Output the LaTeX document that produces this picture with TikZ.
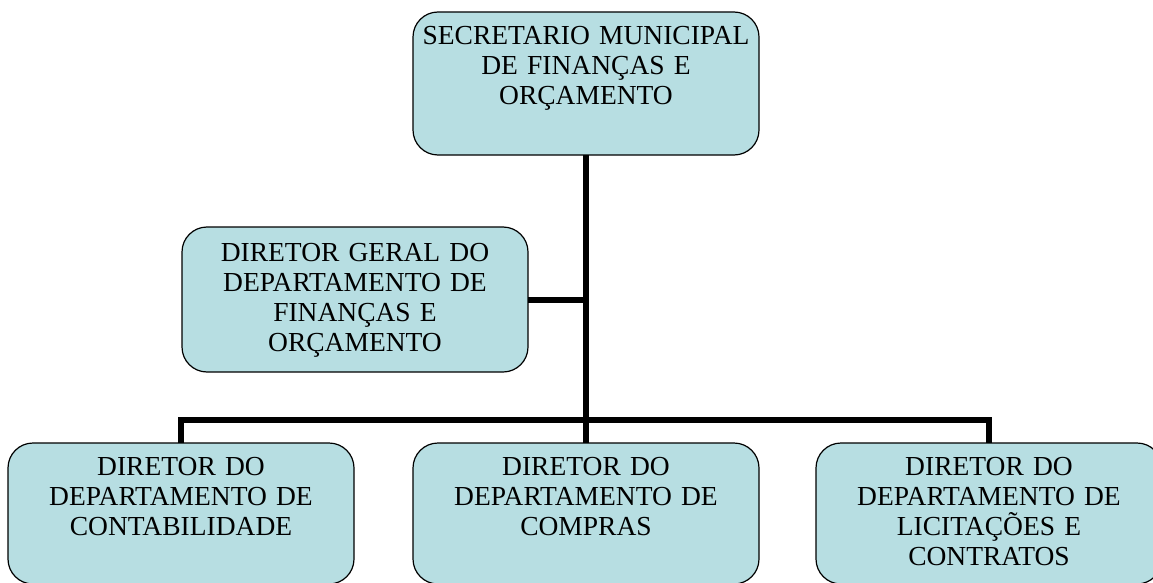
\documentclass[tikz,border=0pt]{standalone}
\usepackage{fontspec}
\setmainfont{Liberation Serif}
\usetikzlibrary{positioning}
\definecolor{caixa}{RGB}{183,222,226}

\begin{document}
\begin{tikzpicture}[x=1pt, y=-1pt,
	cargo/.style={draw=black, line width=1.2pt, fill=caixa, rounded corners=25pt,
		minimum width=346pt, minimum height=143pt, inner sep=0pt, outer sep=0pt, anchor=north west},
	nome/.style={align=center, text width=340pt, inner sep=0pt, font=\fontsize{27.5}{30}\selectfont},
	ligacao/.style={line width=6pt, color=black}]
		%%%%% START %%%%%
		
		\useasboundingbox (0, 0) rectangle (1153, 583);
		\clip (0, 0) rectangle (1153, 583);
		
		\node[cargo] (sec) at (413, 12) {};
		\node[nome, below=14pt of sec.north] (sec-t) {SECRETARIO MUNICIPAL\\DE FINANÇAS E\\ORÇAMENTO};
		
		\node[cargo, minimum height=145pt] (geral) at (182, 227) {};
		\node[nome, below=16pt of geral.north] (geral-t) {DIRETOR GERAL DO\\DEPARTAMENTO DE\\FINANÇAS E\\ORÇAMENTO};
		
		\node[cargo, minimum height=141pt] (contab) at (8, 443) {};
		\node[nome, below=14pt of contab.north] (contab-t) {DIRETOR DO\\DEPARTAMENTO DE\\CONTABILIDADE};
		
		\node[cargo, minimum height=141pt] (compras) at (413, 443) {};
		\node[nome, below=14pt of compras.north] (compras-t) {DIRETOR DO\\DEPARTAMENTO DE\\COMPRAS};
		
		\node[cargo, minimum height=141pt] (licit) at (816, 443) {};
		\node[nome, below=14pt of licit.north] (licit-t) {DIRETOR DO\\DEPARTAMENTO DE\\LICITAÇÕES E\\CONTRATOS};
		
		\coordinate (barra) at (586, 420);
		
		\draw[ligacao] (sec.south) -- (compras.north);
		\draw[ligacao] (geral.east) -- (geral.east -| sec.south);
		\draw[ligacao] (contab.north) |- (barra) -| (licit.north);
		
		%%%%% END %%%%%
\end{tikzpicture}
\end{document}
